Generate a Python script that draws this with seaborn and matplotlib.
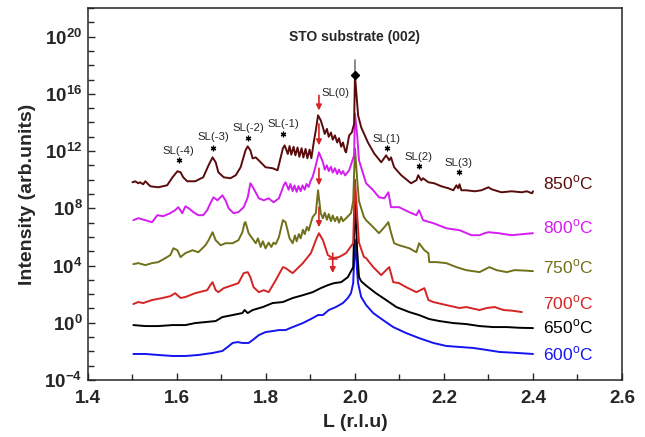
import numpy as np
import pandas as pd
import matplotlib
matplotlib.use('Agg')
import matplotlib.pyplot as plt
import seaborn as sns
from matplotlib.ticker import FixedLocator, FuncFormatter

# ---- data: L (r.l.u) and log10(intensity) ----
L_850 = [1.500, 1.506, 1.513, 1.517, 1.524, 1.529, 1.540, 1.558, 1.578, 1.590, 1.601, 1.608, 1.614, 1.623,
         1.641, 1.659, 1.671, 1.680, 1.687, 1.693, 1.705, 1.720, 1.732, 1.743, 1.754, 1.759, 1.765, 1.770,
         1.777, 1.788, 1.799, 1.815, 1.826, 1.838, 1.842, 1.849, 1.853, 1.857, 1.862, 1.866, 1.871, 1.875,
         1.880, 1.884, 1.889, 1.893, 1.898, 1.902, 1.908, 1.912, 1.917, 1.923, 1.928, 1.932, 1.937, 1.941,
         1.946, 1.950, 1.955, 1.960, 1.964, 1.969, 1.973, 1.978, 1.980, 1.987, 1.993, 1.998, 2.000, 2.005,
         2.007, 2.014, 2.029, 2.043, 2.059, 2.070, 2.077, 2.081, 2.088, 2.104, 2.126, 2.138, 2.142, 2.149,
         2.153, 2.165, 2.178, 2.194, 2.210, 2.221, 2.228, 2.232, 2.235, 2.239, 2.250, 2.269, 2.284, 2.300,
         2.307, 2.329, 2.352, 2.375, 2.386, 2.398, 2.400]
I_850 = [9.82, 9.89, 9.75, 9.82, 9.68, 9.89, 9.54, 9.47, 9.61, 10.17, 10.59, 10.52, 10.17, 9.89,
         9.89, 10.17, 11.01, 11.56, 11.22, 10.52, 10.17, 10.10, 10.31, 10.87, 12.05, 12.33, 12.05, 11.49,
         11.56, 11.22, 10.87, 10.80, 10.66, 12.19, 12.40, 11.80, 12.35, 11.75, 12.30, 11.70, 12.25, 11.60,
         12.20, 11.55, 12.15, 11.50, 12.10, 11.50, 12.75, 13.45, 14.50, 14.15, 13.66, 13.20, 13.55, 13.00,
         13.30, 12.80, 13.10, 12.60, 12.90, 12.30, 12.60, 12.00, 11.91, 13.10, 13.31, 13.90, 17.29, 15.30,
         14.50, 13.66, 12.61, 11.84, 11.22, 11.70, 11.36, 11.56, 10.87, 10.31, 9.75, 9.96, 10.31, 9.96,
         10.10, 9.82, 9.75, 9.54, 9.40, 9.26, 9.61, 9.40, 9.68, 9.26, 9.26, 9.19, 9.26, 9.47,
         9.33, 9.12, 9.19, 9.12, 9.19, 9.05, 9.19]

L_800 = [1.502, 1.513, 1.529, 1.544, 1.556, 1.569, 1.585, 1.596, 1.603, 1.612, 1.619, 1.626, 1.637, 1.648,
         1.659, 1.668, 1.675, 1.682, 1.691, 1.702, 1.709, 1.716, 1.727, 1.738, 1.750, 1.759, 1.765, 1.772,
         1.784, 1.795, 1.806, 1.817, 1.829, 1.840, 1.844, 1.851, 1.855, 1.860, 1.864, 1.869, 1.873, 1.878,
         1.882, 1.887, 1.891, 1.896, 1.900, 1.905, 1.912, 1.919, 1.928, 1.932, 1.937, 1.941, 1.946, 1.950,
         1.955, 1.960, 1.964, 1.969, 1.973, 1.978, 1.987, 1.998, 2.000, 2.005, 2.009, 2.025, 2.041, 2.054,
         2.066, 2.075, 2.081, 2.099, 2.122, 2.138, 2.144, 2.153, 2.176, 2.205, 2.235, 2.262, 2.280, 2.291,
         2.300, 2.323, 2.352, 2.375, 2.400]
I_800 = [7.17, 7.31, 7.17, 7.03, 7.52, 7.45, 7.66, 7.87, 8.08, 7.66, 8.14, 8.01, 7.73, 7.52,
         7.52, 7.87, 8.35, 8.77, 8.56, 8.91, 8.56, 8.01, 7.66, 7.73, 8.08, 8.77, 9.75, 9.40,
         8.70, 8.56, 8.70, 8.42, 8.70, 9.61, 9.82, 9.30, 9.70, 9.20, 9.60, 9.15, 9.55, 9.20,
         9.60, 9.30, 9.70, 9.50, 9.90, 10.20, 11.01, 11.91, 11.22, 10.70, 11.00, 10.60, 10.90, 10.50,
         10.80, 10.40, 10.70, 10.40, 10.60, 10.30, 10.66, 11.70, 14.63, 13.10, 11.36, 9.75, 9.26, 8.77,
         8.70, 9.12, 8.08, 8.08, 7.73, 7.52, 7.87, 7.17, 6.96, 6.61, 6.47, 6.12, 6.12, 6.26,
         6.33, 6.26, 6.12, 6.19, 6.26]

L_750 = [1.502, 1.513, 1.529, 1.544, 1.558, 1.574, 1.585, 1.592, 1.601, 1.608, 1.619, 1.635, 1.648, 1.664,
         1.671, 1.680, 1.687, 1.698, 1.709, 1.725, 1.738, 1.747, 1.752, 1.754, 1.761, 1.777, 1.782, 1.788,
         1.793, 1.799, 1.806, 1.812, 1.817, 1.822, 1.829, 1.838, 1.844, 1.853, 1.860, 1.865, 1.869, 1.874,
         1.878, 1.883, 1.887, 1.892, 1.896, 1.901, 1.905, 1.912, 1.917, 1.923, 1.928, 1.932, 1.937, 1.941,
         1.946, 1.950, 1.955, 1.960, 1.964, 1.969, 1.973, 1.980, 1.991, 1.996, 2.000, 2.005, 2.009, 2.020,
         2.025, 2.041, 2.054, 2.066, 2.075, 2.081, 2.088, 2.099, 2.122, 2.138, 2.144, 2.156, 2.165, 2.167,
         2.183, 2.205, 2.228, 2.250, 2.280, 2.302, 2.318, 2.341, 2.359, 2.380, 2.400]
I_750 = [4.10, 4.17, 4.03, 4.17, 4.24, 4.52, 4.73, 5.21, 5.07, 4.59, 4.87, 5.07, 4.93, 5.42,
         5.77, 6.33, 5.77, 5.42, 5.56, 5.56, 5.77, 6.33, 7.00, 7.03, 6.26, 5.56, 5.90, 5.30,
         5.70, 5.20, 5.60, 5.30, 5.60, 5.50, 5.98, 7.17, 7.03, 5.90, 5.56, 6.10, 5.70, 6.20,
         5.90, 6.50, 6.20, 6.70, 6.45, 7.00, 7.40, 7.66, 9.26, 7.66, 7.30, 7.70, 7.20, 7.60,
         7.10, 7.50, 7.10, 7.40, 7.00, 7.40, 7.10, 7.31, 7.66, 8.50, 12.19, 10.00, 8.50, 7.40,
         7.17, 6.68, 6.26, 6.68, 7.03, 6.30, 5.56, 5.42, 5.21, 4.93, 5.56, 5.07, 4.87, 4.24,
         4.24, 4.17, 3.89, 3.68, 3.54, 3.89, 3.68, 3.54, 3.68, 3.65, 3.61]

L_700 = [1.502, 1.513, 1.524, 1.544, 1.567, 1.585, 1.596, 1.608, 1.619, 1.641, 1.668, 1.675, 1.680, 1.687,
         1.693, 1.705, 1.725, 1.738, 1.750, 1.759, 1.765, 1.772, 1.784, 1.795, 1.806, 1.822, 1.838, 1.844,
         1.860, 1.883, 1.901, 1.912, 1.919, 1.928, 1.939, 1.950, 1.964, 1.980, 1.996, 2.000, 2.005, 2.009,
         2.020, 2.025, 2.041, 2.059, 2.070, 2.077, 2.086, 2.099, 2.115, 2.138, 2.156, 2.165, 2.176, 2.205,
         2.235, 2.250, 2.280, 2.296, 2.314, 2.334, 2.352, 2.375]
I_700 = [1.31, 1.45, 1.38, 1.59, 1.73, 1.86, 2.07, 1.73, 1.80, 2.07, 2.28, 2.63, 2.84, 2.28,
         2.14, 2.42, 2.63, 2.77, 3.47, 3.54, 3.19, 2.49, 2.14, 2.28, 2.14, 2.98, 3.89, 3.82,
         3.47, 4.17, 4.87, 5.77, 6.26, 5.77, 4.73, 4.52, 4.59, 4.87, 5.56, 10.00, 7.50, 5.60,
         4.60, 4.52, 3.89, 3.33, 3.68, 3.89, 2.84, 2.77, 2.49, 2.14, 2.42, 1.59, 1.45, 1.24,
         1.03, 1.10, 0.89, 1.03, 1.10, 0.89, 0.85, 0.75]

L_650 = [1.502, 1.529, 1.558, 1.590, 1.619, 1.641, 1.664, 1.687, 1.702, 1.725, 1.747, 1.752, 1.759, 1.770,
         1.793, 1.815, 1.838, 1.860, 1.883, 1.905, 1.923, 1.939, 1.953, 1.969, 1.984, 1.996, 2.000, 2.005,
         2.009, 2.014, 2.025, 2.047, 2.070, 2.093, 2.122, 2.144, 2.167, 2.190, 2.221, 2.250, 2.280, 2.311,
         2.341, 2.370, 2.400]
I_650 = [-0.16, -0.23, -0.23, -0.16, -0.16, -0.02, 0.05, 0.12, 0.40, 0.54, 0.68, 0.89, 0.68, 0.89,
         1.10, 1.38, 1.45, 1.73, 1.93, 2.14, 2.42, 2.63, 2.77, 2.84, 3.19, 3.89, 8.60, 5.00,
         3.20, 2.90, 2.60, 2.07, 1.59, 1.10, 0.75, 0.54, 0.26, 0.12, -0.02, -0.09, -0.23, -0.30,
         -0.30, -0.35, -0.37]

L_600 = [1.502, 1.529, 1.558, 1.590, 1.619, 1.648, 1.680, 1.702, 1.714, 1.725, 1.736, 1.747, 1.761, 1.770,
         1.784, 1.799, 1.815, 1.829, 1.844, 1.860, 1.883, 1.905, 1.917, 1.928, 1.941, 1.957, 1.973, 1.984,
         1.991, 1.996, 2.000, 2.005, 2.007, 2.014, 2.025, 2.041, 2.063, 2.086, 2.115, 2.144, 2.176, 2.205,
         2.235, 2.266, 2.296, 2.325, 2.360, 2.400]
I_600 = [-2.18, -2.18, -2.25, -2.32, -2.32, -2.25, -2.11, -1.97, -1.69, -1.41, -1.35, -1.41, -1.41, -1.21,
         -0.86, -0.65, -0.58, -0.51, -0.51, -0.30, -0.02, 0.33, 0.54, 0.54, 0.89, 1.10, 1.38, 1.73,
         2.07, 2.77, 5.80, 3.50, 2.77, 1.80, 1.24, 0.68, 0.19, -0.30, -0.72, -1.07, -1.41, -1.62,
         -1.69, -1.76, -1.90, -2.04, -2.10, -2.18]

temps = ['600', '650', '700', '750', '800', '850']
colors = ['#1414f0', '#000000', '#d42424', '#70701a', '#d41ef0', '#5a0c0c']
label_y = [-2.18, -0.30, 1.38, 3.89, 6.68, 9.75]  # log10 position of the temperature labels

# superlattice peak labels: (text, L, log10 y of text, log10 y of star)
sl_names = ['SL(-4)', 'SL(-3)', 'SL(-2)', 'SL(-1)', 'SL(1)', 'SL(2)', 'SL(3)']
sl_L     = [1.604, 1.681, 1.760, 1.839, 2.071, 2.143, 2.233]
sl_text  = [11.98, 12.96, 13.59, 13.87, 12.82, 11.56, 11.15]
sl_star  = [11.36, 12.19, 12.89, 13.17, 12.19, 10.94, 10.52]

# red arrows marking SL(0): (L, log10 tail, log10 head)
arr_L    = [1.919, 1.919, 1.919, 1.919, 1.950]
arr_tail = [15.89, 13.90, 10.80, 8.07, 4.87]
arr_head = [14.84, 12.40, 9.60, 6.68, 3.47]

curves = {'600': (L_600, I_600), '650': (L_650, I_650), '700': (L_700, I_700),
          '750': (L_750, I_750), '800': (L_800, I_800), '850': (L_850, I_850)}
df = pd.concat([pd.DataFrame({'L': l, 'I': np.power(10.0, i), 'T': t})
                for t, (l, i) in curves.items()], ignore_index=True)

sns.set_style('ticks')
plt.rcParams['font.family'] = ['Liberation Sans', 'DejaVu Sans']
plt.rcParams['mathtext.fontset'] = 'custom'
plt.rcParams['mathtext.rm'] = 'Liberation Sans'
plt.rcParams['mathtext.sf'] = 'Liberation Sans'
plt.rcParams['mathtext.bf'] = 'Liberation Sans:bold'

fig = plt.figure(figsize=(6.45, 4.37), dpi=100)
ax = fig.add_axes([0.1364, 0.1304, 0.8279, 0.8513])

sns.lineplot(data=df, x='L', y='I', hue='T', hue_order=temps,
             palette=dict(zip(temps, colors)), estimator=None, sort=False,
             units='T', lw=1.4, legend=False, ax=ax)
ax.set_yscale('log')
ax.set_xlim(1.4, 2.6)
ax.set_ylim(1e-4, 1e22)

# substrate marker
ax.plot([2.0, 2.0], [10**18.35, 10**17.29], color='#777777', lw=1.2)
ax.plot([2.0], [10**17.29], marker='D', ms=4, color='k')
ax.text(2.0, 10**19.94, 'STO substrate (002)', ha='center', va='center',
        fontsize=10, fontweight='bold')

# SL labels
for name, x, yt, ys in zip(sl_names, sl_L, sl_text, sl_star):
    ax.text(x, 10**yt, name, ha='center', va='center', fontsize=8.2)
    ax.plot([x], [10**ys], marker=(6, 2, 0), ms=4, mew=0.9, color='k', ls='none')
ax.text(1.957, 10**16.03, 'SL(0)', ha='center', va='center', fontsize=8.2)

for x, yt, yh in zip(arr_L, arr_tail, arr_head):
    ax.annotate('', xy=(x, 10**yh), xytext=(x, 10**yt),
                arrowprops=dict(arrowstyle='-|>', color='#d42424', lw=1.2,
                                mutation_scale=8, shrinkA=0, shrinkB=0))
ax.plot([1.941, 1.959], [10**4.45, 10**4.45], color='#d42424', lw=1.2)

# temperature labels
for t, c, y in zip(temps, colors, label_y):
    ax.text(2.422, 10**y, t + r'$^{\mathsf{o}}$C', color=c, fontsize=12.5,
            ha='left', va='center')

# ticks
ax.xaxis.set_major_locator(FixedLocator([1.4, 1.6, 1.8, 2.0, 2.2, 2.4, 2.6]))
ax.xaxis.set_minor_locator(FixedLocator([1.5, 1.7, 1.9, 2.1, 2.3, 2.5]))
ax.xaxis.set_major_formatter(FuncFormatter(lambda v, p: '%.1f' % v))
ax.yaxis.set_major_locator(FixedLocator([10.0**k for k in range(-4, 21, 4)]))
ax.yaxis.set_minor_locator(FixedLocator([10.0**k for k in range(-4, 23)]))
ax.yaxis.set_major_formatter(FuncFormatter(lambda v, p: r'$\mathbf{10^{%d}}$' % round(np.log10(v))))
ax.yaxis.set_minor_formatter(FuncFormatter(lambda v, p: ''))
ax.tick_params(which='both', direction='in', width=1, top=False, right=False)
ax.tick_params(which='major', length=5, labelsize=13.5)
ax.tick_params(axis='x', which='major', pad=7)
ax.tick_params(axis='y', which='major', pad=4)
ax.tick_params(which='minor', length=4.5)
for lab in ax.get_xticklabels():
    lab.set_fontweight('bold')
for s in ax.spines.values():
    s.set_linewidth(1.1)

ax.set_xlabel('L (r.l.u)', fontsize=14, fontweight='bold', labelpad=5)
ax.set_ylabel('Intensity (arb.units)', fontsize=14, fontweight='bold', labelpad=6)

fig.savefig('out.png', dpi=100)
